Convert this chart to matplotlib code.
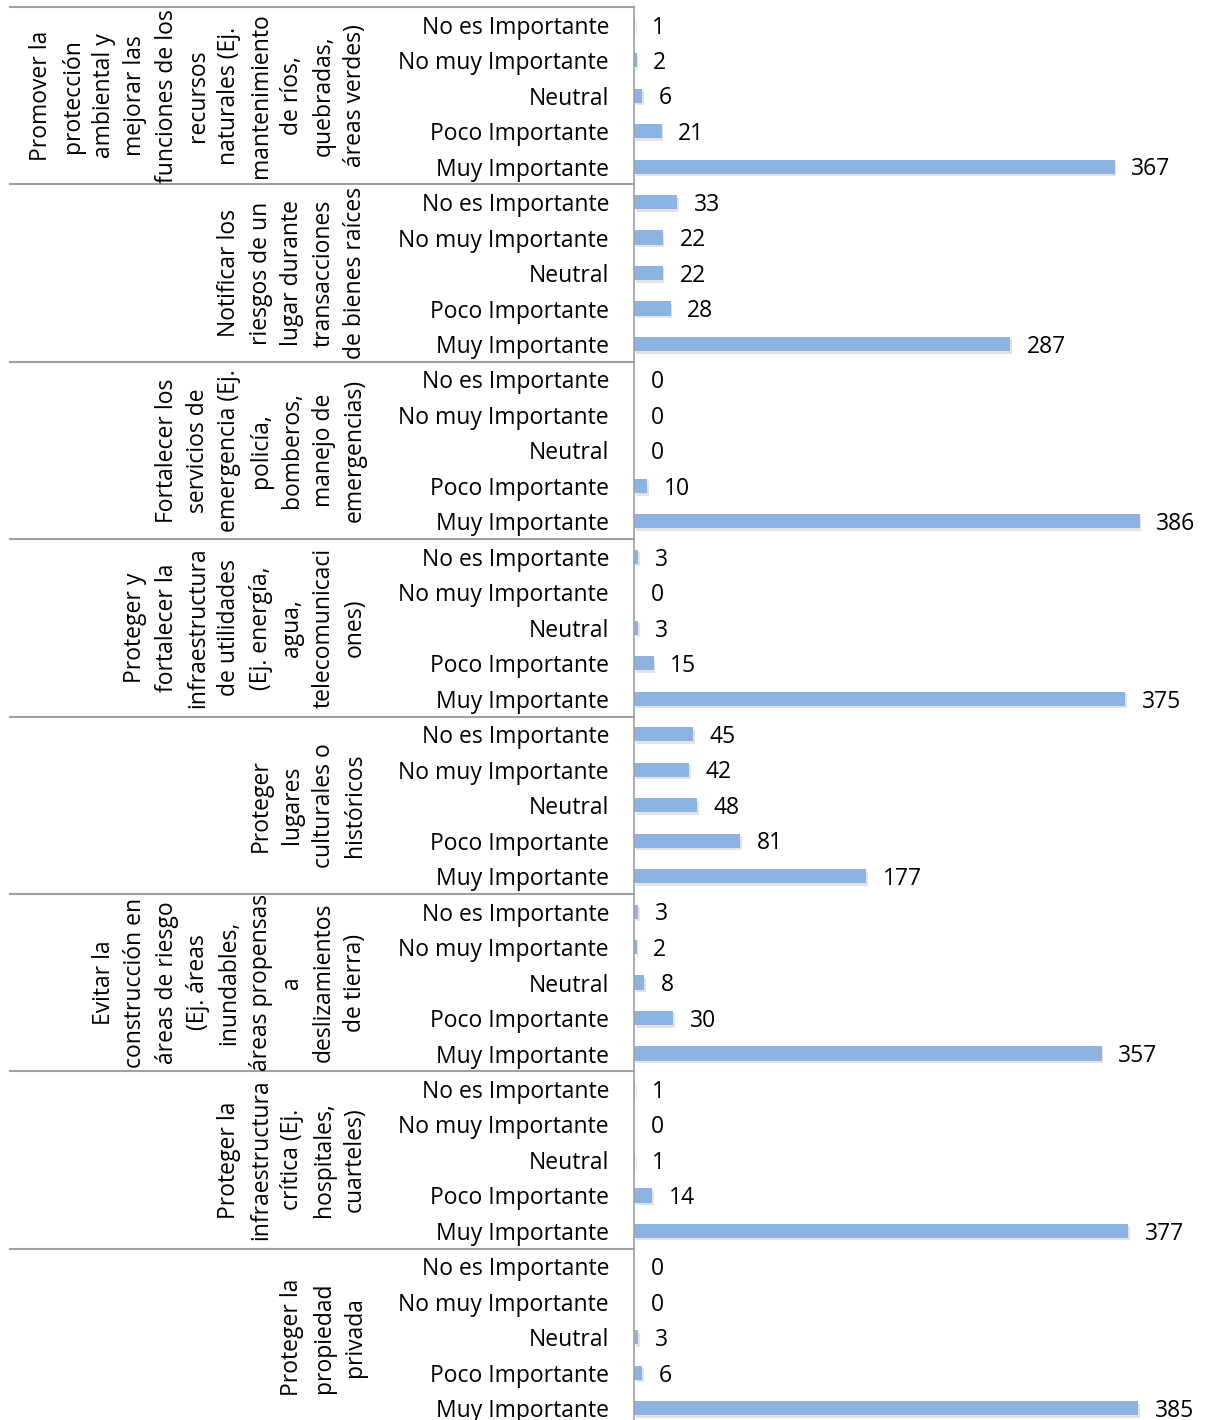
import matplotlib
matplotlib.use("Agg")
import matplotlib.pyplot as plt
import matplotlib.transforms as mtransforms
import matplotlib.patheffects as pe

plt.rcParams['font.family'] = ['Open Sans', 'DejaVu Sans']

groups = [
    "Promover la\nprotección\nambiental y\nmejorar las\nfunciones de los\nrecursos\nnaturales (Ej.\nmantenimiento\nde ríos,\nquebradas,\náreas verdes)",
    "Notificar los\nriesgos de un\nlugar durante\ntransacciones\nde bienes raíces",
    "Fortalecer los\nservicios de\nemergencia (Ej.\npolicía,\nbomberos,\nmanejo de\nemergencias)",
    "Proteger y\nfortalecer la\ninfraestructura\nde utilidades\n(Ej. energía,\nagua,\ntelecomunicaci\nones)",
    "Proteger\nlugares\nculturales o\nhistóricos",
    "Evitar la\nconstrucción en\náreas de riesgo\n(Ej. áreas\ninundables,\náreas propensas\na\ndeslizamientos\nde tierra)",
    "Proteger la\ninfraestructura\ncrítica (Ej.\nhospitales,\ncuarteles)",
    "Proteger la\npropiedad\nprivada",
]
categories = ["No es Importante", "No muy Importante", "Neutral",
              "Poco Importante", "Muy Importante"]
values = [
    [1, 2, 6, 21, 367],
    [33, 22, 22, 28, 287],
    [0, 0, 0, 10, 386],
    [3, 0, 3, 15, 375],
    [45, 42, 48, 81, 177],
    [3, 2, 8, 30, 357],
    [1, 0, 1, 14, 377],
    [0, 0, 3, 6, 385],
]

W, H = 1205, 1420
fig = plt.figure(figsize=(W / 100, H / 100), dpi=100)
ax_left, ax_right = 634, 1158
ax_top, ax_bot = 7, 1426
ax = fig.add_axes([ax_left / W, 1 - ax_bot / H, (ax_right - ax_left) / W, (ax_bot - ax_top) / H])

ncat = len(categories)
ngrp = len(groups)
total = ncat * ngrp
ax.set_ylim(total, 0)
ax.set_xlim(0, 400)

bar_color = '#8DB3E2'
fs = 16.5
ys, xs = [], []
for g, vals in enumerate(values):
    for c, v in enumerate(vals):
        ys.append(g * ncat + c + 0.5)
        xs.append(v)
ax.barh(ys, xs, height=0.4, color=bar_color, edgecolor='none',
        path_effects=[pe.SimplePatchShadow(offset=(1.2, -1.8), shadow_rgbFace='#b0b0b0', alpha=0.35),
                      pe.Normal()])
for y, v in zip(ys, xs):
    ax.annotate(str(v), (v, y), xytext=(12, -2), textcoords='offset points',
                ha='left', va='center', fontsize=fs, color='black')

ax.set_yticks(ys)
ax.set_yticklabels(categories * ngrp, fontsize=fs)
ax.tick_params(axis='y', length=0, pad=18)
ax.set_xticks([])
for s in ['top', 'right', 'bottom']:
    ax.spines[s].set_visible(False)
ax.spines['left'].set_color('#a0a0a0')
ax.spines['left'].set_linewidth(1.2)

trans = mtransforms.blended_transform_factory(fig.transFigure, ax.transData)
for g in range(ngrp + 1):
    y = g * ncat
    ax.plot([10 / W, ax_left / W], [y, y], transform=trans, color='#a0a0a0',
            lw=1.5, clip_on=False)

for g, name in enumerate(groups):
    ax.text(367 / W, g * ncat + ncat / 2, name, transform=trans, rotation=90,
            ha='right', va='center', multialignment='center', fontsize=fs,
            linespacing=1.41)

fig.savefig('out.png', dpi=100)
